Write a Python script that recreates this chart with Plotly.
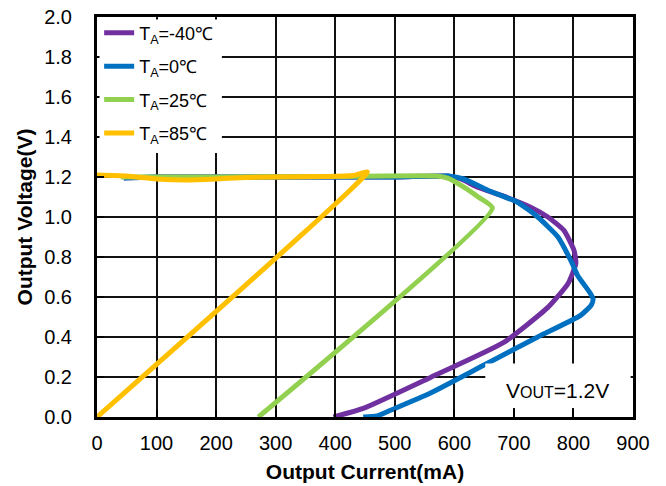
import plotly.graph_objects as go

# Output current (mA) / output voltage (V)
i_m40 = [397, 447, 560, 683, 757, 791, 804, 801, 784, 757, 728, 678, 639, 611, 589, 500, 300, 100, 45]
v_m40 = [0.0, 0.043, 0.198, 0.373, 0.548, 0.668, 0.768, 0.833, 0.933, 1.0, 1.049, 1.109, 1.149, 1.19, 1.205, 1.2, 1.2, 1.2, 1.195]

i_0 = [447, 470, 490, 560, 650, 740, 812, 830, 833, 828, 807, 796, 774, 740, 706, 656, 616, 590, 500, 300, 100, 45]
v_0 = [0.0, 0.005, 0.03, 0.12, 0.26, 0.40, 0.508, 0.56, 0.59, 0.62, 0.708, 0.78, 0.90, 1.0, 1.074, 1.134, 1.19, 1.205, 1.2, 1.2, 1.2, 1.195]

i_25 = [271, 664, 640, 616, 589, 570, 400, 200, 40]
v_25 = [0.0, 1.045, 1.10, 1.149, 1.194, 1.205, 1.203, 1.2, 1.2]

i_85 = [0, 454, 430, 380, 300, 250, 200, 150, 100, 50, 0]
v_85 = [0.0, 1.225, 1.207, 1.202, 1.2, 1.198, 1.19, 1.185, 1.19, 1.205, 1.21]

names = ["T<sub>A</sub>=-40℃", "T<sub>A</sub>=0℃", "T<sub>A</sub>=25℃", "T<sub>A</sub>=85℃"]
colors = ["#7030A0", "#0070C0", "#92D050", "#FFC000"]
series = [(i_m40, v_m40), (i_0, v_0), (i_25, v_25), (i_85, v_85)]

x_ticks = list(range(0, 1000, 100))
y_ticks = [round(0.2 * k, 1) for k in range(11)]

FONT = "Liberation Sans, Arial, sans-serif"

fig = go.Figure()
for k, ((xs, ys), name, col) in enumerate(zip(series, names, colors)):
    fig.add_trace(go.Scatter(
        x=xs, y=ys, mode="lines", name=name, legendgroup=f"g{k}",
        line=dict(color=col, width=5, shape="spline", smoothing=0.5),
    ))

axis_common = dict(
    showline=True, linecolor="black", linewidth=3, mirror=True,
    showgrid=True, gridcolor="#111", gridwidth=1.5,
    ticks="inside", ticklen=7, tickwidth=1.5, tickcolor="black",
    zeroline=False, automargin=False,
    tickfont=dict(family=FONT, size=20, color="black"),
)

fig.update_xaxes(range=[0, 900], tickvals=x_ticks, **axis_common,
                 ticklabelstandoff=6,
                 title=dict(text="<b>Output Current(mA)</b>",
                            font=dict(family=FONT, size=21, color="black"), standoff=12))
fig.update_yaxes(range=[0, 2.0], tickvals=y_ticks, tickformat=".1f", **axis_common,
                 ticklabelstandoff=18,
                 title=dict(text="<b>Output Voltage(V)</b>",
                            font=dict(family=FONT, size=21, color="black"), standoff=6))

# white backing behind the legend, kept just inside the frame lines
fig.add_shape(type="rect", xref="paper", yref="paper",
              x0=2.5 / 536, x1=0.233, y0=0.66, y1=1 - 2.5 / 400,
              fillcolor="white", line=dict(width=0), layer="above")

# white label box in the lower-right corner of the plot
fig.add_shape(type="rect", xref="x", yref="y", x0=652, x1=896, y0=0.045, y1=0.268,
              fillcolor="white", line=dict(width=0), layer="above")
fig.add_annotation(x=773, y=0.135, xref="x", yref="y", showarrow=False,
                   text="V<span style='font-size:16px'>OUT</span>=1.2V",
                   font=dict(family=FONT, size=21, color="black"))

fig.update_layout(
    width=666, height=486,
    margin=dict(l=97, r=33, t=17, b=69),
    paper_bgcolor="white", plot_bgcolor="white",
    showlegend=True,
    legend=dict(x=0.004, y=1.006, xanchor="left", yanchor="top",
                bgcolor="rgba(0,0,0,0)", borderwidth=0, tracegroupgap=7,
                font=dict(family=FONT, size=18, color="black"),
                itemwidth=30),
)

fig.write_html("out.html")
